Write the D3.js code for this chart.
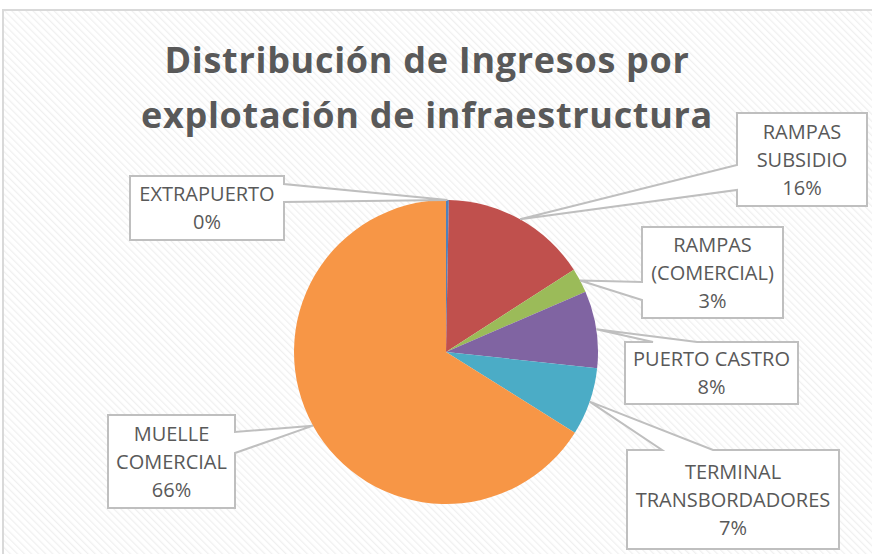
<!DOCTYPE html>
<html>
<head>
<meta charset="utf-8">
<script src="https://cdn.jsdelivr.net/npm/d3@7"></script>
<style>
body { margin: 0; background: #fff; }
svg { display: block; font-family: 'Open Sans', sans-serif; }
</style>
</head>
<body>
<div id="chart"></div>
<script>
var categories = ['EXTRAPUERTO', 'RAMPAS SUBSIDIO', 'RAMPAS (COMERCIAL)', 'PUERTO CASTRO', 'TERMINAL TRANSBORDADORES', 'MUELLE COMERCIAL']
var values = [0.3, 15.6, 2.6, 8.2, 7.2, 66.1]
var labelLines = [['EXTRAPUERTO'], ['RAMPAS', 'SUBSIDIO'], ['RAMPAS', '(COMERCIAL)'], ['PUERTO CASTRO'], ['TERMINAL', 'TRANSBORDADORES'], ['MUELLE', 'COMERCIAL']]
var colors = ['#4F81BD', '#C0504D', '#9BBB59', '#8064A2', '#4BACC6', '#F79646']
var titleLines = ['Distribución de Ingresos por', 'explotación de infraestructura']

// callout boxes: x, y, w, h and where the pointer leaves the box
var callouts = [
  {x: 130, y: 176, w: 154, h: 64, side: 'right', a: 184, b: 202},
  {x: 737, y: 113, w: 130, h: 93, side: 'left', a: 165, b: 190},
  {x: 642, y: 227, w: 141, h: 91, side: 'left', a: 282, b: 300},
  {x: 625, y: 342, w: 173, h: 62, side: 'top', a: 653, b: 697},
  {x: 627, y: 450, w: 212, h: 99, side: 'top', a: 662, b: 713},
  {x: 108, y: 415, w: 127, h: 93, side: 'right', a: 432, b: 453}
]

var width = 872, height = 554
var cx = 446, cy = 352, r = 152

var svg = d3.select('#chart').append('svg').attr('width', width).attr('height', height)

var pat = svg.append('defs').append('pattern')
  .attr('id', 'hatch').attr('width', 5).attr('height', 5)
  .attr('patternUnits', 'userSpaceOnUse').attr('patternTransform', 'rotate(-45)')
pat.append('rect').attr('width', 5).attr('height', 5).attr('fill', '#fff')
pat.append('line').attr('x1', 0).attr('y1', 0).attr('x2', 0).attr('y2', 5)
  .attr('stroke', '#f0f0f0').attr('stroke-width', 2.5)

svg.append('rect').attr('x', 3).attr('y', 10).attr('width', width).attr('height', height)
  .attr('fill', 'url(#hatch)').attr('stroke', '#d9d9d9').attr('stroke-width', 2)

svg.selectAll('text.title').data(titleLines).enter().append('text')
  .attr('class', 'title')
  .attr('x', 427).attr('y', function(d, i){ return 73 + i * 55 })
  .attr('text-anchor', 'middle')
  .attr('font-size', 36).attr('font-weight', 'bold').attr('fill', '#595959')
  .attr('letter-spacing', 0.7)
  .text(function(d){ return d })

var pie = d3.pie().sort(null).value(function(d){ return d })
var arcs = pie(values)
var arc = d3.arc().innerRadius(0).outerRadius(r)

var g = svg.append('g').attr('transform', 'translate(' + cx + ',' + cy + ')')
g.selectAll('path').data(arcs).enter().append('path')
  .attr('d', arc)
  .attr('fill', function(d, i){ return colors[i] })

function calloutPath(c, d){
  var mid = (d.startAngle + d.endAngle) / 2
  var tx = cx + r * Math.sin(mid), ty = cy - r * Math.cos(mid)
  var x0 = c.x, y0 = c.y, x1 = c.x + c.w, y1 = c.y + c.h
  var pts
  if (c.side == 'left') pts = [[x0, y0], [x1, y0], [x1, y1], [x0, y1], [x0, c.b], [tx, ty], [x0, c.a]]
  if (c.side == 'right') pts = [[x0, y0], [x1, y0], [x1, c.a], [tx, ty], [x1, c.b], [x1, y1], [x0, y1]]
  if (c.side == 'top') pts = [[x0, y0], [c.a, y0], [tx, ty], [c.b, y0], [x1, y0], [x1, y1], [x0, y1]]
  return 'M' + pts.join('L') + 'Z'
}

var lab = svg.selectAll('g.callout').data(arcs).enter().append('g').attr('class', 'callout')

lab.append('path')
  .attr('d', function(d, i){ return calloutPath(callouts[i], d) })
  .attr('fill', '#fff').attr('stroke', '#bfbfbf').attr('stroke-width', 2)
  .attr('stroke-linejoin', 'miter')

lab.each(function(d, i){
  var c = callouts[i]
  var lines = labelLines[i].concat([d3.format('.0f')(values[i] / d3.sum(values) * 100) + '%'])
  var lh = 28
  var top = c.y + c.h / 2 - (lines.length - 1) * lh / 2 + 7
  d3.select(this).selectAll('text').data(lines).enter().append('text')
    .attr('x', c.x + c.w / 2)
    .attr('y', function(t, j){ return top + j * lh })
    .attr('text-anchor', 'middle')
    .attr('font-size', 20).attr('fill', '#595959')
    .text(function(t){ return t })
})
</script>
</body>
</html>
